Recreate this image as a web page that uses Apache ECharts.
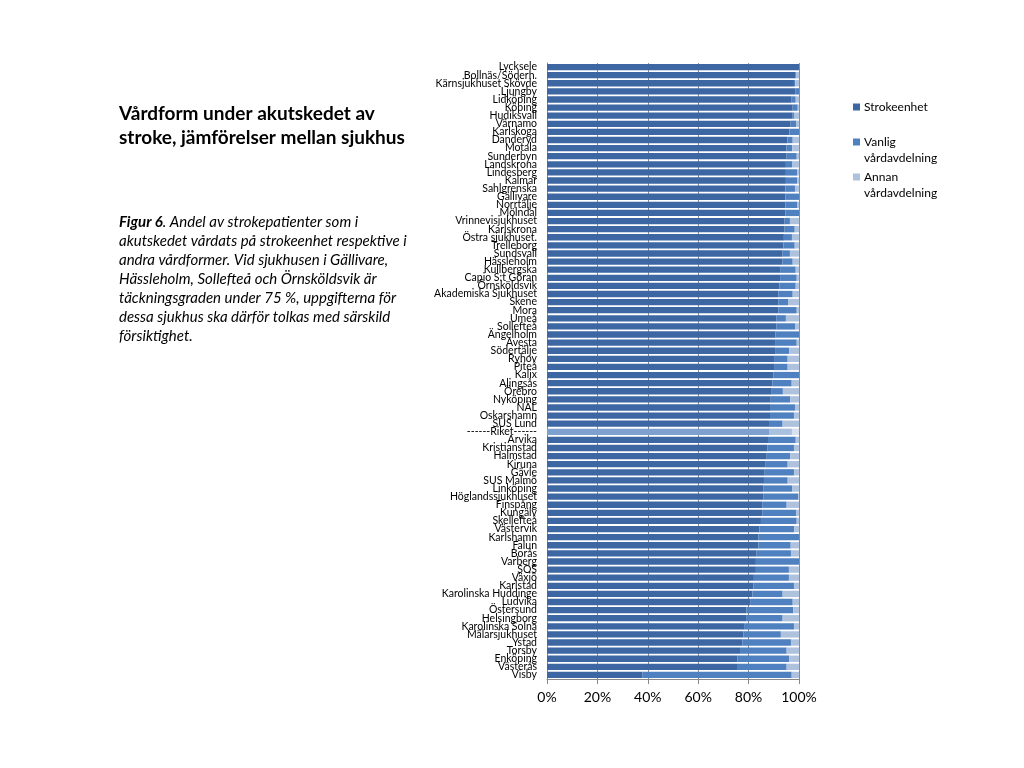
<!DOCTYPE html>
<html>
<head>
<meta charset="utf-8">
<style>html,body{margin:0;padding:0;background:#fff;}#chart{width:1024px;height:768px;}</style>
<script src="https://cdn.jsdelivr.net/npm/echarts@6/dist/echarts.min.js"></script>
</head>
<body>
<div id="chart"></div>
<script>
const categories = ["Lycksele","Bollnäs/Söderh.","Kärnsjukhuset Skövde","Ljungby","Lidköping","Köping","Hudiksvall","Värnamo","Karlskoga","Danderyd","Motala","Sunderbyn","Landskrona","Lindesberg","Kalmar","Sahlgrenska","Gällivare","Norrtälje","Mölndal","Vrinnevisjukhuset","Karlskrona","Östra sjukhuset.","Trelleborg","Sundsvall","Hässleholm","Kullbergska","Capio S:t Göran","Örnsköldsvik","Akademiska Sjukhuset","Skene","Mora","Umeå","Sollefteå","Ängelholm","Avesta","Södertälje","Ryhov","Piteå","Kalix","Alingsås","Örebro","Nyköping","NÄL","Oskarshamn","SUS Lund","------Riket------","Arvika","Kristianstad","Halmstad","Kiruna","Gävle","SUS Malmö","Linköping","Höglandssjukhuset","Finspång","Kungälv","Skellefteå","Västervik","Karlshamn","Falun","Borås","Varberg","SOS","Växjö","Karlstad","Karolinska Huddinge","Ludvika","Östersund","Helsingborg","Karolinska Solna","Mälarsjukhuset","Ystad","Torsby","Enköping","Västerås","Visby"];
const strokeenhet = [100,98.5,98,98.5,97.1,97.5,97.3,96.7,96.2,95.4,95,95.1,94.8,94.8,94.8,94.6,94.6,94.6,94.6,94.3,94.3,94,93.8,93.5,93.5,92.5,92.5,92.2,91.8,91.8,91.8,91.1,91.1,90.7,90.5,90.5,90.1,90.1,89.8,89.4,89.2,88.8,88.5,88.5,88.1,88.1,87.7,87.4,87.2,86.8,86.4,86.1,85.8,85.8,85.4,85.4,84.9,84.3,83.9,83.9,83.2,82.9,82.9,82.1,81.9,81.5,80.6,79.2,79,78.2,77.9,77.5,76.6,75.5,75.4,37.8];
const vanlig = [0,0.5,0.5,1.5,1.6,2,0.7,2.1,3.8,2.1,2.3,4,2.6,4.5,4.5,3.8,5.4,4.8,5.4,2.1,4,3.2,4.5,2.9,4,6.2,6.6,6.5,5.7,4,7.3,3.7,7.5,9.3,8.6,5.6,5.4,5.4,10.2,7.7,4.4,7.7,9.9,9.5,5.4,9.1,11,10.6,9.3,8.7,11.6,9.4,11.6,13.8,9.7,13.4,14.2,13.8,16.1,12.8,13.6,17.1,13.1,13.9,16.1,12,16.9,18.5,14.5,19.8,14.9,19.3,18.5,20.6,19.7,59.3];
const annan = [0,1,1.5,0,1.3,0.5,2,1.2,0,2.5,2.7,0.9,2.6,0.7,0.7,1.6,0,0.6,0,3.6,1.7,2.8,1.7,3.6,2.5,1.3,0.9,1.3,2.5,4.2,0.9,5.2,1.4,0,0.9,3.9,4.5,4.5,0,2.9,6.4,3.5,1.6,2,6.5,2.8,1.3,2,3.5,4.5,2,4.5,2.6,0.4,4.9,1.2,0.9,1.9,0,3.3,3.2,0,4,4,2,6.5,2.5,2.3,6.5,2,7.2,3.2,4.9,3.9,4.9,2.9];
const seriesNames = ["Strokeenhet","Vanlig vårdavdelning","Annan vårdavdelning"];
const xTicks = [0,20,40,60,80,100];

const colors = ['#3d67a3','#4f80c0','#aec2de'];
const riketColors = ['#7ea0cf','#a9c0df','#d7e1ef'];
const riketName = "------Riket------";

function mk(values, idx){
  return values.map((v,i)=> categories[i]===riketName ? {value:v, itemStyle:{color:riketColors[idx]}} : v);
}

const chart = echarts.init(document.getElementById('chart'));
const F = 'Lato, "Liberation Sans", sans-serif';
const series = [strokeenhet, vanlig, annan].map((vals, idx)=>({
  name: seriesNames[idx], type:'bar', stack:'total', barCategoryGap:'22%',
  itemStyle:{color:colors[idx]}, data: mk(vals, idx), animation:false
}));

const captionLines = [
  "{b|Figur 6}{i|. Andel av strokepatienter som i}",
  "{i|akutskedet vårdats på strokeenhet respektive i}",
  "{i|andra vårdformer. Vid sjukhusen i Gällivare,}",
  "{i|Hässleholm, Sollefteå och Örnsköldsvik är}",
  "{i|täckningsgraden under 75 %, uppgifterna för}",
  "{i|dessa sjukhus ska därför tolkas med särskild}",
  "{i|försiktighet.}"
];
const graphic = [
  {type:'text', left:119, top:102, style:{text:'Vårdform under akutskedet av\nstroke, jämförelser mellan sjukhus', font:'bold 19px '+F, fill:'#000', lineHeight:24}},
  {type:'text', left:119, top:215, style:{text:captionLines.join('\n'),
    rich:{b:{font:'bold italic 15px '+F, fill:'#000', lineHeight:19}, i:{font:'italic 15px '+F, fill:'#000', lineHeight:19}}}}
];
// legend
const legendPos = [[853,107,'Strokeenhet'],[853,142,'Vanlig\nvårdavdelning'],[853,177,'Annan\nvårdavdelning']];
legendPos.forEach((p,i)=>{
  graphic.push({type:'rect', shape:{x:p[0], y:p[1]-3.5, width:7, height:7}, style:{fill:colors[i]}});
  graphic.push({type:'text', x:p[0]+11, y:p[1]-8, style:{text:p[2], font:'12px '+F, fill:'#000', lineHeight:16}});
});

chart.setOption({
  animation:false,
  textStyle:{fontFamily:F},
  grid:{left:547, right:225, top:63, bottom:89, containLabel:false},
  xAxis:{type:'value', min:xTicks[0], max:xTicks[xTicks.length-1], interval:20,
    axisLabel:{formatter:'{value}%', fontSize:14, color:'#000', margin:11, fontFamily:F},
    axisLine:{show:true, lineStyle:{color:'#888'}},
    axisTick:{show:true, length:5, lineStyle:{color:'#888'}},
    splitLine:{show:true, lineStyle:{color:'#8c8c8c', width:1}}},
  yAxis:{type:'category', data:categories, inverse:true,
    axisLabel:{interval:0, fontSize:10.5, color:'#000', margin:10, fontFamily:F, lineHeight:8},
    axisLine:{show:true, lineStyle:{color:'#888'}},
    axisTick:{show:false}},
  series: series,
  graphic: graphic
});
</script>
</body>
</html>
